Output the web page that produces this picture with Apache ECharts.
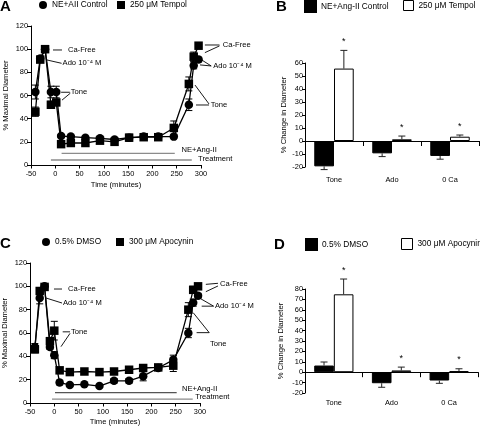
<!DOCTYPE html>
<html><head><meta charset="utf-8">
<script src="https://cdn.jsdelivr.net/npm/echarts@6/dist/echarts.min.js"></script>
<style>html,body{margin:0;padding:0;background:#fff}#c{width:480px;height:427px}</style>
</head><body><div id="c"></div>
<script>
// ---------- Panel A: NE+AII control vs 250 uM Tempol ----------
const timeA = [-41, -31, -21, -9, 2, 12, 32, 62, 92, 122, 152, 182, 212, 244, 275, 285, 295];
const controlA = [63, 92, 100, 63, 63, 25, 24.5, 23.6, 23, 22, 23.6, 24.5, 24.5, 24.5, 52, 86, 91];
const controlAErr = [6, 2, 0, 5, 5, 1, 1, 1, 1, 1, 3, 1, 1, 1, 5, 3, 2];
const tempolA = [46, 91, 100, 52, 54, 18, 19, 19, 21, 20, 23.6, 24, 24, 32, 70, 93.5, 103];
const tempolAErr = [4, 2, 0, 3, 2, 1, 1, 1, 1, 1, 1, 1, 1, 6, 6, 4, 1];

// ---------- Panel C: 0.5% DMSO vs 300 uM Apocynin ----------
const timeC = [-40, -30, -20, -9, 0, 11, 32, 62, 93, 123, 154, 183, 214, 245, 276, 286, 296];
const dmsoC = [48, 90, 100, 48, 41, 17.5, 15.5, 16, 14.5, 19, 19, 23, 30, 37, 60, 86, 92];
const dmsoCErr = [3, 5, 1, 2, 3, 2, 1, 1, 1, 2, 2, 4, 2, 4, 4, 3, 2];
const apoC = [46, 96, 99.5, 53, 62, 28, 26.5, 27, 26.5, 27, 28.5, 30, 30.5, 32, 80, 97, 100];
const apoCErr = [3, 2, 1, 3, 8, 2, 1, 1, 1, 1, 1, 1, 2, 5, 6, 3, 2];

// ---------- Panels B and D: % change in diameter ----------
const barCategories = ['Tone', 'Ado', '0 Ca'];
const controlB = [-19.5, -9.5, -11.5];
const controlBErr = [2.5, 2.5, 2.5];
const tempolB = [55.7, 1.3, 3.3];
const tempolBErr = [14, 2.5, 1.3];
const dmsoD = [6.4, -10.6, -8];
const dmsoDErr = [3.4, 3.9, 2.7];
const apoD = [74.9, 1.7, 1];
const apoDErr = [14.7, 3.2, 2.3];

// axis ranges [min, max, step]
const timeRange = [-50, 300, 50];
const diamRange = [0, 120, 20];
const changeRangeB = [-20, 60, 10];
const changeRangeD = [-20, 80, 10];

// treatment period lines [t start, t end, level]
const neAngA = [13, 246, 10], treatA = [-9, 281, 4.3];
const neAngC = [1.5, 252, 8.9], treatC = [-4.7, 285, 3.4];

// callouts (data coordinates)
const calloutLinesA = [
  [-4.7, 99.3, 13.8, 99.3], [-17.5, 90.7, 13, 87.8], [12, 62.8, 30, 62.8], [13.8, 56, 31, 62],
  [308, 103.6, 338, 103.6], [308, 97, 338, 102.8], [296.5, 92, 321, 85.5], [298, 86.4, 321, 85.5],
  [287.7, 69, 316.5, 52.7], [289.7, 51.8, 316.5, 51.8]
];
const calloutPosA = [[26, 99.3], [15, 87.8], [32, 62.8], [345, 103.6], [325, 85.5], [320, 51.8], [260, 13], [294, 5.2]];
const calloutTextA = ['Ca-Free', 'Ado 10\u207B\u2074 M', 'Tone', 'Ca-Free', 'Ado 10\u207B\u2074 M', 'Tone', 'NE+Ang-II', 'Treatment'];
const calloutLinesC = [
  [-0.6, 97.7, 15.9, 97.7], [-17, 90, 15.9, 85.7], [17.3, 61, 32.4, 61], [13.8, 48.3, 32.4, 59.7],
  [312, 101.7, 337, 102.6], [312, 95.4, 337, 100.3], [300, 89.7, 328, 83], [303.5, 83, 328, 83],
  [286, 77.4, 319, 60.3], [293, 60.3, 319, 60.3]
];
const calloutPosC = [[28.2, 97.7], [18, 85.7], [34.4, 61], [341, 101.7], [331, 83], [320.6, 50.3], [263, 12], [290, 5.4]];
const calloutTextC = calloutTextA;

const FONT = '"Liberation Sans", Arial, Helvetica, sans-serif';
const names = {
  ctrlA: 'NE+AII Control', tempA: '250 \u03BCM Tempol',
  ctrlB: 'NE+Ang-II Control', tempB: '250 \u03BCM Tempol',
  dmsoC: '0.5% DMSO', apoC: '300 \u03BCM Apocynin',
  dmsoD: '0.5% DMSO', apoD: '300 \u03BCM Apocynin'
};

function zip(xs, ys) { return xs.map((x, i) => [x, ys[i]]); }
function zip3(xs, ys, es) { return xs.map((x, i) => [x, ys[i], es[i]]); }

function timeAxis(grid, gap) {
  return {type: 'value', gridIndex: grid, min: timeRange[0], max: timeRange[1], interval: timeRange[2],
    name: 'Time (minutes)', nameLocation: 'middle', nameGap: gap,
    nameTextStyle: {fontSize: 7.6, color: '#000', fontFamily: FONT},
    axisLine: {show: true, onZero: false, lineStyle: {color: '#000', width: 1}},
    axisTick: {show: true, length: 3.5, inside: false, lineStyle: {color: '#000'}},
    axisLabel: {fontSize: 7.4, color: '#000', margin: 5, fontFamily: FONT},
    splitLine: {show: false}};
}
function diamAxis(grid) {
  return {type: 'value', gridIndex: grid, min: diamRange[0], max: diamRange[1], interval: diamRange[2],
    name: '% Maximal Diameter', nameLocation: 'middle', nameGap: 21, nameRotate: 90,
    nameTextStyle: {fontSize: 7.6, color: '#000', fontFamily: FONT},
    axisLine: {show: true, onZero: false, lineStyle: {color: '#000', width: 1}},
    axisTick: {show: true, length: 4, lineStyle: {color: '#000'}},
    axisLabel: {fontSize: 7.4, color: '#000', margin: 3, fontFamily: FONT},
    splitLine: {show: false}};
}
function catAxis(grid, margin) {
  return {type: 'category', gridIndex: grid, data: barCategories,
    axisLine: {show: true, onZero: true, lineStyle: {color: '#000', width: 1}},
    axisTick: {show: true, length: 5, lineStyle: {color: '#000'}},
    axisLabel: {fontSize: 7.4, color: '#000', margin: margin, fontFamily: FONT},
    splitLine: {show: false}};
}
function changeAxis(grid, r, gap) {
  return {type: 'value', gridIndex: grid, min: r[0], max: r[1], interval: r[2],
    name: '% Change in Diameter', nameLocation: 'middle', nameGap: gap, nameRotate: 90,
    nameTextStyle: {fontSize: 7.6, color: '#000', fontFamily: FONT},
    axisLine: {show: true, onZero: false, lineStyle: {color: '#000', width: 1}},
    axisTick: {show: true, length: 3, lineStyle: {color: '#000'}},
    axisLabel: {fontSize: 7.4, color: '#000', margin: 2, fontFamily: FONT},
    splitLine: {show: false}};
}

function lineSeries(name, grid, xs, ys, symbol) {
  return {type: 'line', name: name, xAxisIndex: grid, yAxisIndex: grid, data: zip(xs, ys),
    symbol: symbol, symbolSize: 8.5, showSymbol: true, showAllSymbol: true, z: 4,
    lineStyle: {color: '#000', width: 1.3}, itemStyle: {color: '#000', borderWidth: 0},
    animation: false, silent: true};
}
function errSeries(grid, xs, ys, es) {
  return {type: 'custom', xAxisIndex: grid, yAxisIndex: grid, data: zip3(xs, ys, es), z: 3,
    encode: {x: 0, y: 1}, silent: true, animation: false,
    renderItem: function (params, api) {
      const x = api.value(0), y = api.value(1), e = api.value(2);
      if (!e) return null;
      const t = api.coord([x, y + e]), b = api.coord([x, y - e]);
      const s = {stroke: '#000', lineWidth: 1};
      return {type: 'group', children: [
        {type: 'line', shape: {x1: t[0], y1: t[1], x2: b[0], y2: b[1]}, style: s},
        {type: 'line', shape: {x1: t[0] - 3.5, y1: t[1], x2: t[0] + 3.5, y2: t[1]}, style: s},
        {type: 'line', shape: {x1: b[0] - 3.5, y1: b[1], x2: b[0] + 3.5, y2: b[1]}, style: s}
      ]};
    }};
}
function calloutLineSeries(grid, segs) {
  return {type: 'custom', xAxisIndex: grid, yAxisIndex: grid, data: segs, z: 6,
    encode: {x: [0, 2], y: [1, 3]}, silent: true, animation: false, clip: false,
    renderItem: function (params, api) {
      const a = api.coord([api.value(0), api.value(1)]), b = api.coord([api.value(2), api.value(3)]);
      return {type: 'line', shape: {x1: a[0], y1: a[1], x2: b[0], y2: b[1]}, style: {stroke: '#000', lineWidth: 0.9}};
    }};
}
function periodSeries(grid, ne, tr, neColor, trColor, trWidth) {
  const segs = [[ne[0], ne[2], ne[1], ne[2]], [tr[0], tr[2], tr[1], tr[2]]];
  return {type: 'custom', xAxisIndex: grid, yAxisIndex: grid, data: segs, z: 2,
    encode: {x: [0, 2], y: [1, 3]}, silent: true, animation: false, clip: false,
    renderItem: function (params, api) {
      const a = api.coord([api.value(0), api.value(1)]), b = api.coord([api.value(2), api.value(3)]);
      const i = params.dataIndex;
      return {type: 'line', shape: {x1: a[0], y1: a[1], x2: b[0], y2: b[1]},
        style: {stroke: i === 0 ? neColor : trColor, lineWidth: i === 0 ? 1.4 : trWidth}};
    }};
}
function calloutTextSeries(grid, pos, texts) {
  return {type: 'custom', xAxisIndex: grid, yAxisIndex: grid, data: pos, z: 6,
    encode: {x: 0, y: 1}, silent: true, animation: false, clip: false,
    renderItem: function (params, api) {
      const p = api.coord([api.value(0), api.value(1)]);
      return {type: 'text', x: p[0], y: p[1],
        style: {text: texts[params.dataIndex], fill: '#000', font: '7.6px ' + FONT,
          align: 'left', verticalAlign: 'middle', textAlign: 'left', textVerticalAlign: 'middle'}};
    }};
}
function barSeries(name, grid, vals, filled) {
  return {type: 'bar', name: name, xAxisIndex: grid, yAxisIndex: grid, data: vals,
    barWidth: '34%', barGap: '0%', z: 3, animation: false, silent: true,
    itemStyle: filled ? {color: '#000', borderColor: '#000', borderWidth: 1}
                      : {color: '#fff', borderColor: '#000', borderWidth: 1}};
}
function barErrSeries(grid, vals, errs, side, star) {
  return {type: 'custom', xAxisIndex: grid, yAxisIndex: grid, z: 4,
    data: vals.map((v, i) => [i, v, errs[i]]), encode: {x: 0, y: 1},
    silent: true, animation: false, clip: false,
    renderItem: function (params, api) {
      const i = api.value(0), v = api.value(1), e = api.value(2);
      const band = api.size([1, 0])[0];
      const dx = side * 0.17 * band;
      const a = api.coord([i, v]);
      const b = api.coord([i, v + (v >= 0 ? e : -e)]);
      const x = a[0] + dx;
      const s = {stroke: '#222', lineWidth: 1};
      const ch = [
        {type: 'line', shape: {x1: x, y1: a[1], x2: x, y2: b[1]}, style: s},
        {type: 'line', shape: {x1: x - 3.5, y1: b[1], x2: x + 3.5, y2: b[1]}, style: s}
      ];
      if (star) ch.push({type: 'text', x: x, y: b[1] - 9,
        style: {text: '*', fill: '#000', font: '9px ' + FONT, align: 'center', verticalAlign: 'middle',
          textAlign: 'center', textVerticalAlign: 'middle'}});
      return {type: 'group', children: ch};
    }};
}

function legendItem(key, icon, left, top, w, h, style) {
  const d = {name: key, icon: icon};
  if (style) d.itemStyle = style;
  return {data: [d], left: left, top: top, padding: 0, itemGap: 0, itemWidth: w, itemHeight: h,
    selectedMode: false, formatter: n => names[n],
    textStyle: {fontSize: 8.3, color: '#000', fontFamily: FONT, lineHeight: 10}};
}
function letter(t, left, top) {
  return {text: t, left: left, top: top, padding: 0,
    textStyle: {fontSize: 15, fontWeight: 'bold', color: '#000', fontFamily: FONT}};
}

const chart = echarts.init(document.getElementById('c'), null, {renderer: 'canvas'});
chart.setOption({
  animation: false,
  backgroundColor: '#fff',
  textStyle: {fontFamily: FONT},
  title: [letter('A', 0, -1), letter('B', 276, -1), letter('C', 0, 236), letter('D', 274, 237)],
  legend: [
    legendItem('ctrlA', 'circle', 39, 0, 8, 8),
    legendItem('tempA', 'rect', 117, 0, 8, 8),
    legendItem('ctrlB', 'rect', 304, 0, 11, 11, {color: '#000'}),
    legendItem('tempB', 'rect', 403, 0, 10, 10, {color: '#fff', borderColor: '#000', borderWidth: 1}),
    legendItem('dmsoC', 'circle', 42, 237, 8, 8),
    legendItem('apoC', 'rect', 116, 237, 8, 8),
    legendItem('dmsoD', 'rect', 305, 238, 11, 11, {color: '#000'}),
    legendItem('apoD', 'rect', 401, 238, 11, 11, {color: '#fff', borderColor: '#000', borderWidth: 1})
  ],
  grid: [
    {left: 31, top: 26, width: 170, height: 139, containLabel: false, outerBoundsMode: 'none'},
    {left: 305, top: 63, width: 174, height: 104, containLabel: false, outerBoundsMode: 'none'},
    {left: 30, top: 263, width: 170, height: 140, containLabel: false, outerBoundsMode: 'none'},
    {left: 305, top: 289, width: 173, height: 104, containLabel: false, outerBoundsMode: 'none'}
  ],
  xAxis: [timeAxis(0, 16), catAxis(1, 9), timeAxis(2, 15), catAxis(3, 6)],
  yAxis: [diamAxis(0), changeAxis(1, changeRangeB, 17), diamAxis(2), changeAxis(3, changeRangeD, 20)],
  series: [
    periodSeries(0, neAngA, treatA, '#8c8c8c', '#a8a8a8', 2),
    errSeries(0, timeA, controlA, controlAErr),
    errSeries(0, timeA, tempolA, tempolAErr),
    lineSeries('tempA', 0, timeA, tempolA, 'rect'),
    lineSeries('ctrlA', 0, timeA, controlA, 'circle'),
    calloutLineSeries(0, calloutLinesA),
    calloutTextSeries(0, calloutPosA, calloutTextA),

    barSeries('ctrlB', 1, controlB, true),
    barSeries('tempB', 1, tempolB, false),
    barErrSeries(1, controlB, controlBErr, -1, false),
    barErrSeries(1, tempolB, tempolBErr, 1, true),

    periodSeries(2, neAngC, treatC, '#555', '#8a8a8a', 1.2),
    errSeries(2, timeC, dmsoC, dmsoCErr),
    errSeries(2, timeC, apoC, apoCErr),
    lineSeries('dmsoC', 2, timeC, dmsoC, 'circle'),
    lineSeries('apoC', 2, timeC, apoC, 'rect'),
    calloutLineSeries(2, calloutLinesC),
    calloutTextSeries(2, calloutPosC, calloutTextC),

    barSeries('dmsoD', 3, dmsoD, true),
    barSeries('apoD', 3, apoD, false),
    barErrSeries(3, dmsoD, dmsoDErr, -1, false),
    barErrSeries(3, apoD, apoDErr, 1, true)
  ]
});
</script></body></html>
